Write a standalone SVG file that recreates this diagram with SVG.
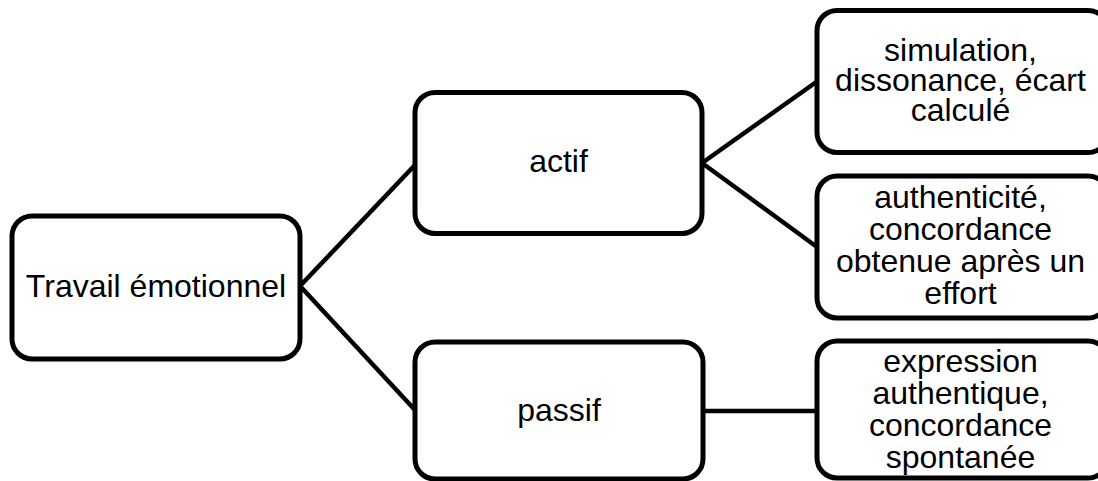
<svg xmlns="http://www.w3.org/2000/svg" width="1098" height="481" viewBox="0 0 1098 481">
  <style>
    .box { fill: #ffffff; stroke: #000000; stroke-width: 5; }
    .link { fill: none; stroke: #000000; stroke-width: 4.5; }
    .label { font-family: "Liberation Sans", Arial, sans-serif; font-size: 32px; fill: #000000; text-anchor: middle; }
  </style>
  <rect width="1098" height="481" fill="#ffffff"/>

  <!-- connectors -->
  <g id="connectors">
    <line class="link" x1="300" y1="286" x2="415" y2="165"/>
    <line class="link" x1="300" y1="286" x2="415" y2="410"/>
    <line class="link" x1="702" y1="163" x2="817" y2="81.5"/>
    <line class="link" x1="702" y1="163" x2="817" y2="247"/>
    <line class="link" x1="703" y1="411" x2="817" y2="411"/>
  </g>

  <!-- root -->
  <g id="node-travail">
    <rect class="box" x="12" y="216" width="288" height="143" rx="20" ry="20"/>
    <text class="label" x="156" y="297">Travail émotionnel</text>
  </g>

  <!-- level 1 -->
  <g id="node-actif">
    <rect class="box" x="415" y="92.5" width="287" height="141" rx="20" ry="20"/>
    <text class="label" x="558.5" y="172">actif</text>
  </g>
  <g id="node-passif">
    <rect class="box" x="415" y="342" width="288" height="137" rx="20" ry="20"/>
    <text class="label" x="559" y="421">passif</text>
  </g>

  <!-- level 2 -->
  <g id="node-simulation">
    <rect class="box" x="817" y="10.5" width="291" height="142" rx="20" ry="20"/>
    <text class="label" x="960.5" y="61">simulation,</text>
    <text class="label" x="960.5" y="91">dissonance, écart</text>
    <text class="label" x="960.5" y="121">calculé</text>
  </g>
  <g id="node-authenticite">
    <rect class="box" x="817" y="176" width="291" height="142" rx="20" ry="20"/>
    <text class="label" x="960.5" y="208">authenticité,</text>
    <text class="label" x="960.5" y="240">concordance</text>
    <text class="label" x="960.5" y="272">obtenue après un</text>
    <text class="label" x="960.5" y="304">effort</text>
  </g>
  <g id="node-expression">
    <rect class="box" x="817" y="341" width="291" height="137" rx="20" ry="20"/>
    <text class="label" x="960.5" y="372">expression</text>
    <text class="label" x="960.5" y="404">authentique,</text>
    <text class="label" x="960.5" y="436">concordance</text>
    <text class="label" x="960.5" y="468">spontanée</text>
  </g>
</svg>
